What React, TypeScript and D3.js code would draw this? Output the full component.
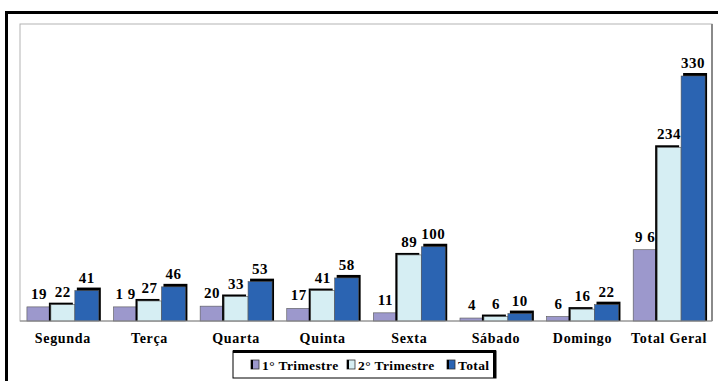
import React from "react";
import * as d3 from "d3";

const categories = ["Segunda", "Terça", "Quarta", "Quinta", "Sexta", "Sábado", "Domingo", "Total Geral"];
const series = ["1° Trimestre", "2° Trimestre", "Total"];
const trim1 = [19, 19, 20, 17, 11, 4, 6, 96];
const trim2 = [22, 27, 33, 41, 89, 6, 16, 234];
const total = [41, 46, 53, 58, 100, 10, 22, 330];
const labels1 = ["19", "1 9", "20", "17", "11", "4", "6", "9 6"];
const colors = ["#9c98cc", "#d6eef3", "#2b64b2"];

export default function App() {
  const W = 718, H = 381;
  const plot = { x0: 20, x1: 712, y0: 24, y1: 321 };
  const x = d3.scaleBand<string>().domain(categories).range([plot.x0, plot.x1]).paddingInner(0.17).paddingOuter(0.08);
  const xs = d3.scaleBand<string>().domain(series).range([0, x.bandwidth()]);
  const y = d3.scaleLinear().domain([0, 330]).range([plot.y1, 76]);
  const data = [trim1, trim2, total];
  const txt = (size: number, ls: number) => ({
    fontFamily: '"Liberation Serif", "Times New Roman", serif',
    fontWeight: "bold" as const,
    fontSize: size,
    letterSpacing: ls,
  });

  return (
    <svg width={W} height={H} style={{ position: "absolute", left: 0, top: 0 }}>
      <rect x={0} y={0} width={W} height={H} fill="#fff" />
      <path d={`M6.5,${H} V12.5 H${W}`} fill="none" stroke="#000" strokeWidth={3} />
      <rect x={plot.x0} y={plot.y0} width={plot.x1 - plot.x0} height={plot.y1 - plot.y0} fill="#fff" stroke="#b3b3b3" strokeWidth={1} />
      <line x1={plot.x1} x2={plot.x1} y1={plot.y0} y2={plot.y1} stroke="#8a8a8a" strokeWidth={2} />
      {categories.map((c, i) => (
        <g key={c} transform={`translate(${x(c)},0)`}>
          {series.map((s, k) => {
            const v = data[k][i];
            const bx = xs(s)!;
            const bw = xs.bandwidth();
            const top = y(v);
            return (
              <g key={s}>
                {k === 2 && (
                  <rect x={bx + 2} y={top - 3} width={bw} height={plot.y1 - top + 3} fill="#000" />
                )}
                {k === 1 && v > data[0][i] && (
                  <rect x={bx - 2} y={top - 2} width={bw} height={plot.y1 - top + 2} fill="#000" />
                )}
                <rect x={bx} y={top} width={bw} height={plot.y1 - top} fill={colors[k]} stroke="#555" strokeWidth={0.6} />
                <text x={bx + bw / 2} y={top - 8} textAnchor="middle" style={txt(15, 0.5)} fill="#000">
                  {k === 0 ? labels1[i] : String(v)}
                </text>
              </g>
            );
          })}
        </g>
      ))}
      <line x1={plot.x0} x2={plot.x1} y1={plot.y1} y2={plot.y1} stroke="#8a8a8a" strokeWidth={1} />
      {categories.map((c) => (
        <text key={c} x={x(c)! + x.bandwidth() / 2} y={343} textAnchor="middle" style={txt(14, 0.7)} fill="#000">
          {c}
        </text>
      ))}
      <g>
        <rect x={233} y={351} width={263} height={27} fill="#fff" stroke="#000" strokeWidth={1} />
        <path d={`M233,351.5 H494.5 V378`} fill="none" stroke="#000" strokeWidth={3} />
        {series.map((s, k) => {
          const lx = [251, 347, 447][k];
          return (
            <g key={s}>
              <rect x={lx} y={360} width={8} height={9} fill={colors[k]} stroke="#333" strokeWidth={0.8} />
              <rect x={lx} y={360} width={2} height={9} fill="#000" />
              <text x={lx + 11} y={369.5} style={txt(13.5, 0.4)} fill="#000">{s}</text>
            </g>
          );
        })}
      </g>
    </svg>
  );
}
